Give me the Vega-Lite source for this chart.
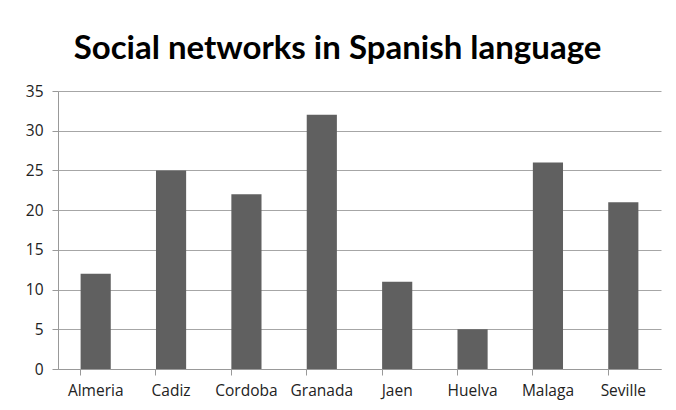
{
  "$schema": "https://vega.github.io/schema/vega-lite/v6.json",
  "autosize": {"type": "none"},
  "padding": {"left": 58, "top": 91, "right": 15, "bottom": 41},
  "width": 603,
  "height": 278,
  "background": "white",
  "title": {
    "text": "Social networks in Spanish language",
    "font": "Lato",
    "fontSize": 33,
    "fontWeight": "bold",
    "color": "#000000",
    "anchor": "middle",
    "dx": -22,
    "offset": 18
  },
  "data": {
    "values": [
      {"city": "Almeria", "value": 12},
      {"city": "Cadiz", "value": 25},
      {"city": "Cordoba", "value": 22},
      {"city": "Granada", "value": 32},
      {"city": "Jaen", "value": 11},
      {"city": "Huelva", "value": 5},
      {"city": "Malaga", "value": 26},
      {"city": "Seville", "value": 21}
    ]
  },
  "mark": {"type": "bar", "color": "#606060"},
  "encoding": {
    "x": {
      "field": "city",
      "type": "nominal",
      "sort": null,
      "scale": {"paddingInner": 0.6, "paddingOuter": 0.3},
      "axis": {
        "title": null,
        "labelAngle": 0,
        "labelFont": "Open Sans",
        "labelFontSize": 15.5,
        "labelColor": "#222222",
        "labelPadding": 8,
        "bandPosition": 0,
        "tickSize": 6,
        "tickColor": "#999999",
        "domainColor": "#999999",
        "grid": false
      }
    },
    "y": {
      "field": "value",
      "type": "quantitative",
      "scale": {"domain": [0, 35], "nice": false},
      "axis": {
        "title": null,
        "values": [0, 5, 10, 15, 20, 25, 30, 35],
        "labelFont": "Open Sans",
        "labelFontSize": 15.5,
        "labelColor": "#222222",
        "labelPadding": 9,
        "tickSize": 6,
        "tickColor": "#999999",
        "domainColor": "#999999",
        "gridColor": "#a6a6a6",
        "grid": true
      }
    }
  },
  "config": {"view": {"stroke": null}}
}
